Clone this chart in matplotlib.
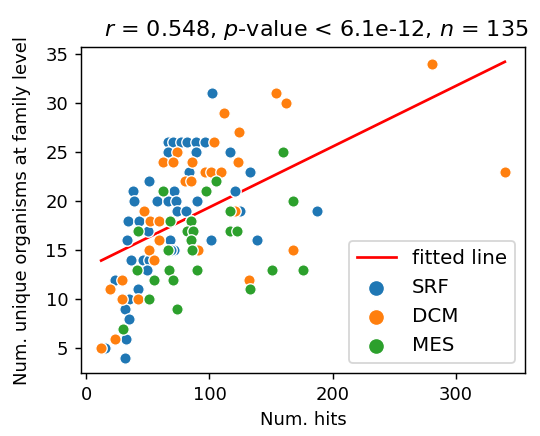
import numpy as np
import matplotlib
matplotlib.use("Agg")
import matplotlib.pyplot as plt

# values
srf_hits = [102, 66, 70, 77, 82, 89, 96, 66, 89, 117, 83, 133, 51, 38, 71, 121,
            39, 57, 66, 73, 90, 74, 81, 125, 187, 34, 43, 85, 50, 33, 68, 101,
            139, 71, 69, 36, 46, 51, 49, 23, 42, 32, 35, 31, 35, 32, 15, 31]
srf_orgs = [31, 26, 26, 26, 26, 26, 26, 25, 25, 25, 23, 23, 22, 21, 21, 21,
            20, 20, 20, 20, 20, 19, 19, 19, 19, 18, 18, 18, 17, 16, 16, 16,
            16, 15, 15, 14, 14, 14, 13, 12, 11, 10, 10, 9, 8, 6, 5, 4]

dcm_hits = [281, 154, 162, 112, 124, 104, 74, 62, 70, 86, 123, 96, 101, 109,
            340, 80, 85, 121, 47, 52, 59, 59, 51, 91, 168, 55, 29, 132, 19, 29,
            42, 23, 12]
dcm_orgs = [34, 31, 30, 29, 27, 26, 25, 24, 24, 24, 24, 23, 23, 23,
            23, 22, 22, 19, 19, 18, 18, 16, 15, 15, 15, 14, 12, 12, 11, 10,
            10, 6, 5]

mes_hits = [160, 105, 62, 97, 117, 168, 68, 85, 42, 82, 87, 117, 122, 85,
            66, 86, 41, 67, 90, 151, 176, 55, 70, 133, 51, 74, 30]
mes_orgs = [25, 22, 21, 21, 19, 20, 18, 18, 17, 17, 17, 17, 17, 16,
            15, 15, 13, 13, 13, 13, 13, 12, 12, 11, 10, 9, 7]

fit_slope = 0.0617
fit_intercept = 13.2

title = "$r$ = 0.548, $p$-value < 6.1e-12, $n$ = 135"

fig = plt.figure(figsize=(540 / 130, 436 / 130), dpi=130)
ax = fig.add_axes([81 / 540, 1 - 373 / 436, 444 / 540, 326 / 436])

all_hits = np.array(srf_hits + dcm_hits + mes_hits)
xs = np.array([all_hits.min(), all_hits.max()])
ax.plot(xs, fit_intercept + fit_slope * xs, color="red", lw=1.5, label="fitted line")

for hits, orgs, col, name in [(srf_hits, srf_orgs, "tab:blue", "SRF"),
                              (dcm_hits, dcm_orgs, "tab:orange", "DCM"),
                              (mes_hits, mes_orgs, "tab:green", "MES")]:
    ax.scatter(hits, orgs, s=40, color=col, edgecolor="white", linewidth=0.75,
               label=name, zorder=3)

ax.margins(0.05)
ax.set_xticks([0, 100, 200, 300])
ax.set_yticks([5, 10, 15, 20, 25, 30, 35])
ax.set_xlabel("Num. hits")
ax.set_ylabel("Num. unique organisms at family level", labelpad=8)
ax.set_title(title, fontsize=12.3, x=0.53)
ax.legend(loc="lower right", markerscale=1.4, fontsize=11)

fig.savefig("out.png", dpi=130)
